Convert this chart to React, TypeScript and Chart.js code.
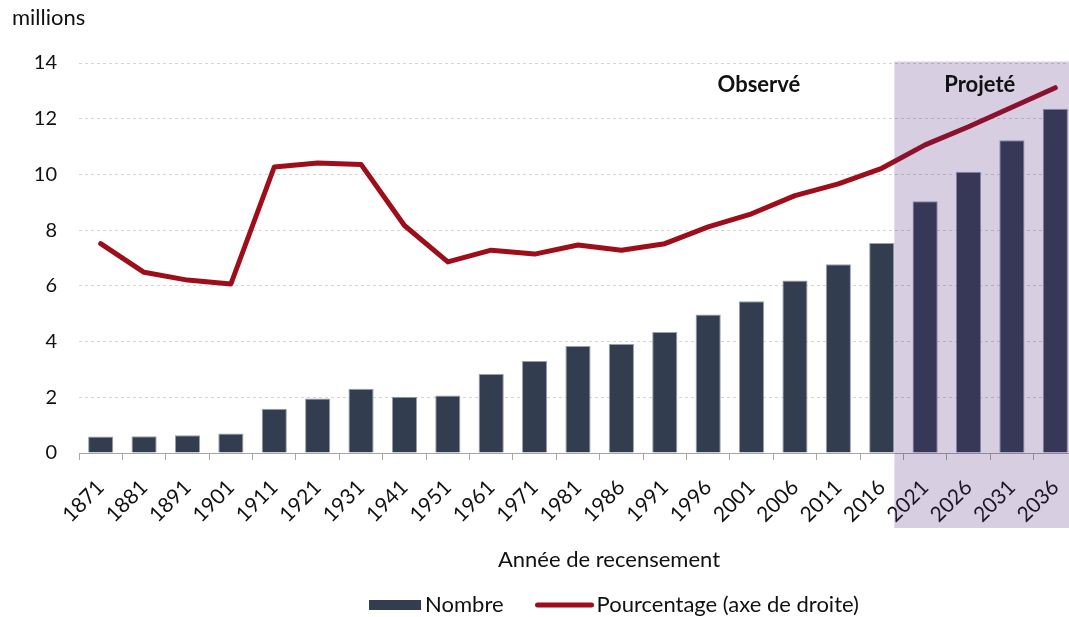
import { useEffect, useRef } from 'react';
import { Chart, registerables } from 'chart.js';
Chart.register(...registerables);

const years = ['1871', '1881', '1891', '1901', '1911', '1921', '1931', '1941', '1951', '1961', '1971', '1981', '1986', '1991', '1996', '2001', '2006', '2011', '2016', '2021', '2026', '2031', '2036'];
const nombre = [0.59, 0.60, 0.64, 0.70, 1.59, 1.96, 2.31, 2.02, 2.06, 2.84, 3.30, 3.84, 3.91, 4.34, 4.97, 5.45, 6.19, 6.78, 7.54, 9.04, 10.1, 11.23, 12.36];
const pourcentage = [16.1, 13.9, 13.3, 13.0, 22.0, 22.3, 22.2, 17.5, 14.7, 15.6, 15.3, 16.0, 15.6, 16.1, 17.4, 18.4, 19.8, 20.7, 21.9, 23.7, 25.1, 26.6, 28.1];
const lastObserved = '2016';
const leftMax = 14;
const rightMax = 30;
const unitLabel = 'millions';
const xTitle = 'Année de recensement';
const observedLabel = 'Observé';
const projectedLabel = 'Projeté';
const seriesNames = ['Nombre', 'Pourcentage (axe de droite)'];

const FONT = 'Lato, "Open Sans", sans-serif';
const BAR_COLOR = '#333D50';
const LINE_COLOR = '#9E0D1A';
const TEXT = '#111111';

export default function App() {
  const ref = useRef<HTMLCanvasElement>(null);
  useEffect(() => {
    const canvas = ref.current;
    if (!canvas) return;
    const decorations = {
      id: 'decorations',
      afterDatasetsDraw(chart: any) {
        const { ctx, chartArea, scales } = chart;
        const meta = chart.getDatasetMeta(1);
        const idx = years.indexOf(lastObserved);
        const bar: any = meta.data[idx];
        const x0 = bar.x + bar.width / 2;
        const top = scales.y.getPixelForValue(leftMax) - 1.5;
        const bottom = chartArea.bottom + 75;
        ctx.save();
        ctx.fillStyle = 'rgba(75,38,120,0.22)';
        ctx.fillRect(x0, top, chart.width - x0, bottom - top);
        ctx.fillStyle = TEXT;
        ctx.font = `bold 22px ${FONT}`;
        ctx.textAlign = 'center';
        ctx.textBaseline = 'middle';
        const ty = scales.y.getPixelForValue(13.2);
        ctx.fillText(observedLabel, scales.x.getPixelForValue(15.17), ty);
        ctx.fillText(projectedLabel, scales.x.getPixelForValue(20.26), ty);
        ctx.restore();
      },
      afterDraw(chart: any) {
        const { ctx, chartArea } = chart;
        ctx.save();
        ctx.fillStyle = TEXT;
        ctx.font = `22px ${FONT}`;
        ctx.textBaseline = 'middle';
        ctx.textAlign = 'left';
        ctx.fillText(unitLabel, 12, 18);
        ctx.textAlign = 'center';
        const cx = chartArea.left + 530;
        ctx.fillText(xTitle, cx, chartArea.bottom + 107);
        // legend
        const ly = chartArea.bottom + 152;
        ctx.textAlign = 'left';
        const w1 = ctx.measureText(seriesNames[0]).width;
        const w2 = ctx.measureText(seriesNames[1]).width;
        const total = 52 + 4 + w1 + 32 + 58 + 3 + w2;
        let x = chartArea.left + 535 - total / 2;
        ctx.fillStyle = BAR_COLOR;
        ctx.fillRect(x, ly - 5, 52, 10);
        x += 56;
        ctx.fillStyle = TEXT;
        ctx.fillText(seriesNames[0], x, ly);
        x += w1 + 32;
        ctx.strokeStyle = LINE_COLOR;
        ctx.lineWidth = 5;
        ctx.lineCap = 'round';
        ctx.beginPath();
        ctx.moveTo(x + 2, ly);
        ctx.lineTo(x + 56, ly);
        ctx.stroke();
        x += 61;
        ctx.fillText(seriesNames[1], x, ly);
        ctx.restore();
      },
    };
    const chart = new Chart(canvas, {
      type: 'bar',
      data: {
        labels: years,
        datasets: [
          {
            type: 'line',
            label: seriesNames[1],
            data: pourcentage,
            yAxisID: 'y1',
            borderColor: LINE_COLOR,
            backgroundColor: LINE_COLOR,
            borderWidth: 5,
            pointRadius: 0,
            tension: 0,
            borderJoinStyle: 'round',
            borderCapStyle: 'round',
            order: 0,
          } as any,
          {
            type: 'bar',
            label: seriesNames[0],
            data: nombre,
            yAxisID: 'y',
            backgroundColor: BAR_COLOR,
            borderColor: '#9AA0AA',
            borderWidth: 1,
            categoryPercentage: 1,
            barPercentage: 0.58,
            order: 1,
          },
        ],
      },
      options: {
        responsive: false,
        animation: false,
        layout: { padding: { left: 0, right: 23, top: 63, bottom: 0 } },
        plugins: { legend: { display: false }, tooltip: { enabled: false } },
        scales: {
          x: {
            grid: { offset: true, drawOnChartArea: false, drawTicks: true, tickLength: 7, color: '#A6A6A6' },
            border: { display: true, color: '#A6A6A6', width: 1 },
            ticks: { minRotation: 45, maxRotation: 45, padding: 15, color: TEXT, font: { family: FONT, size: 21 }, autoSkip: false },
            afterFit: (s: any) => { s.height = 164; },
          },
          y: {
            position: 'left',
            min: 0,
            max: leftMax,
            ticks: { stepSize: 2, padding: 22, color: TEXT, font: { family: FONT, size: 20 } },
            grid: { drawTicks: false, color: '#D4D4D4', lineWidth: 1 },
            border: { display: false, dash: [3, 3] },
            afterFit: (s: any) => { s.width = 79; },
          },
          y1: {
            position: 'right',
            display: false,
            min: 0,
            max: rightMax,
            grid: { drawOnChartArea: false },
          },
        },
      },
      plugins: [decorations],
    });
    return () => chart.destroy();
  }, []);
  return (
    <div style={{ position: 'fixed', left: 0, top: 0, width: 1069, height: 617, overflow: 'hidden', background: '#fff' }}>
      <canvas ref={ref} width={1100} height={617} style={{ display: 'block' }} />
    </div>
  );
}
